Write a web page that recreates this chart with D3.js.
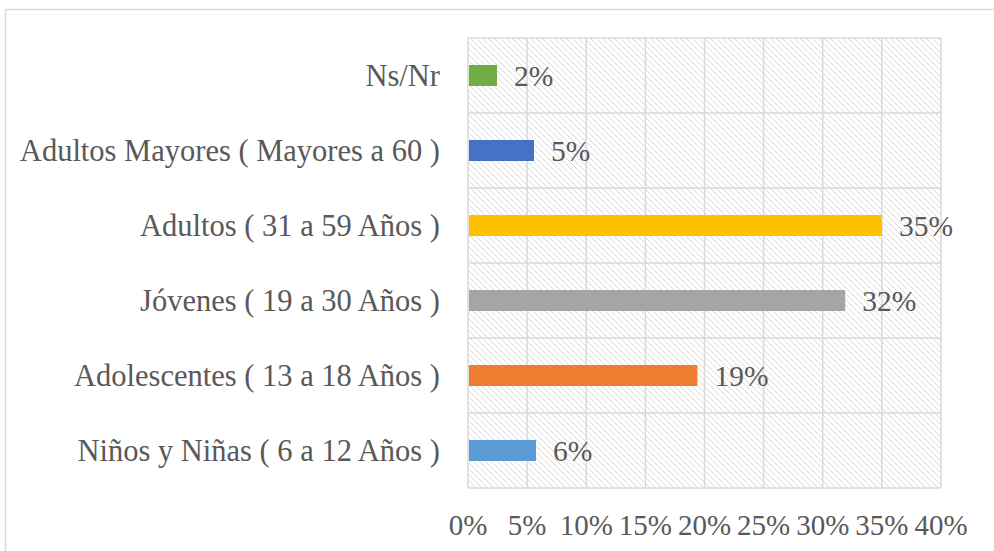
<!DOCTYPE html>
<html>
<head>
<meta charset="utf-8">
<script src="https://cdn.jsdelivr.net/npm/d3@7"></script>
<style>
  body { margin: 0; background: #fff; }
  svg text { font-family: "Liberation Serif", "DejaVu Serif", serif; fill: #595959; }
</style>
</head>
<body>
<div id="chart"></div>
<script>
var width = 994;
var height = 551;

// categories top to bottom
var categories = [
    "Ns/Nr",
    "Adultos Mayores ( Mayores a 60 )",
    "Adultos ( 31 a 59 Años )",
    "Jóvenes ( 19 a 30 Años )",
    "Adolescentes ( 13 a 18 Años )",
    "Niños y Niñas ( 6 a 12 Años )"
];
var values = [2.45, 5.58, 35.0, 31.9, 19.4, 5.75];
var labels = ["2%", "5%", "35%", "32%", "19%", "6%"];
var colors = ["#70ad47", "#4472c4", "#ffc000", "#a5a5a5", "#ed7d31", "#5b9bd5"];
var ticks = [0, 5, 10, 15, 20, 25, 30, 35, 40];

var svg = d3.select("#chart")
    .append("svg")
    .attr("width", width)
    .attr("height", height);

// hatch pattern for plot background
var defs = svg.append("defs");
var pat = defs.append("pattern")
    .attr("id", "hatch")
    .attr("patternUnits", "userSpaceOnUse")
    .attr("width", 6)
    .attr("height", 6);
pat.append("rect").attr("width", 6).attr("height", 6).attr("fill", "#fff");
[0, 1, 2, 3, 4, 5].forEach(function (i) {
    pat.append("rect")
        .attr("x", i).attr("y", i)
        .attr("width", 1).attr("height", 1)
        .attr("fill", "#d9d9d9");
});

// outer chart border
svg.append("rect")
    .attr("x", 5.5).attr("y", 9.5)
    .attr("width", 1000).attr("height", 600)
    .attr("fill", "none")
    .attr("stroke", "#d9d9d9")
    .attr("stroke-width", 1.5);

var xScale = d3.scaleLinear()
    .domain([0, 40])
    .range([468, 941]);
var yScale = d3.scaleBand()
    .domain(categories)
    .range([38, 488]);

svg.append("rect")
    .attr("x", xScale(0)).attr("y", yScale.range()[0])
    .attr("width", xScale(40) - xScale(0))
    .attr("height", yScale.range()[1] - yScale.range()[0])
    .attr("fill", "url(#hatch)");

// vertical gridlines
svg.selectAll(".vgrid")
    .data(ticks)
    .enter()
    .append("line")
    .attr("x1", function (d) { return xScale(d); })
    .attr("x2", function (d) { return xScale(d); })
    .attr("y1", 38)
    .attr("y2", 488)
    .attr("stroke", "#d9d9d9")
    .attr("stroke-width", 1.5);

// horizontal gridlines (band edges)
var edges = categories.map(function (c) { return yScale(c); }).concat([yScale.range()[1]]);
svg.selectAll(".hgrid")
    .data(edges)
    .enter()
    .append("line")
    .attr("x1", xScale(0))
    .attr("x2", xScale(40))
    .attr("y1", function (d) { return d; })
    .attr("y2", function (d) { return d; })
    .attr("stroke", "#d9d9d9")
    .attr("stroke-width", 1.5);

// bars
var barH = 21;
svg.selectAll(".bar")
    .data(values)
    .enter()
    .append("rect")
    .attr("x", xScale(0) + 1)
    .attr("y", function (d, i) { return yScale(categories[i]) + yScale.bandwidth() / 2 - barH / 2; })
    .attr("width", function (d) { return xScale(d) - xScale(0) - 1; })
    .attr("height", barH)
    .attr("fill", function (d, i) { return colors[i]; });

// value labels
svg.selectAll(".val")
    .data(values)
    .enter()
    .append("text")
    .attr("x", function (d) { return xScale(d) + 17; })
    .attr("y", function (d, i) { return yScale(categories[i]) + yScale.bandwidth() / 2; })
    .attr("dy", "0.35em")
    .attr("font-size", 29.5)
    .text(function (d, i) { return labels[i]; });

// category labels
svg.selectAll(".cat")
    .data(categories)
    .enter()
    .append("text")
    .attr("x", 440)
    .attr("y", function (d) { return yScale(d) + yScale.bandwidth() / 2; })
    .attr("dy", "0.35em")
    .attr("text-anchor", "end")
    .attr("font-size", 30.5)
    .text(function (d) { return d; });

// x tick labels
svg.selectAll(".tick")
    .data(ticks)
    .enter()
    .append("text")
    .attr("x", function (d) { return xScale(d); })
    .attr("y", 535)
    .attr("text-anchor", "middle")
    .attr("font-size", 29)
    .text(function (d) { return d + "%"; });
</script>
</body>
</html>
